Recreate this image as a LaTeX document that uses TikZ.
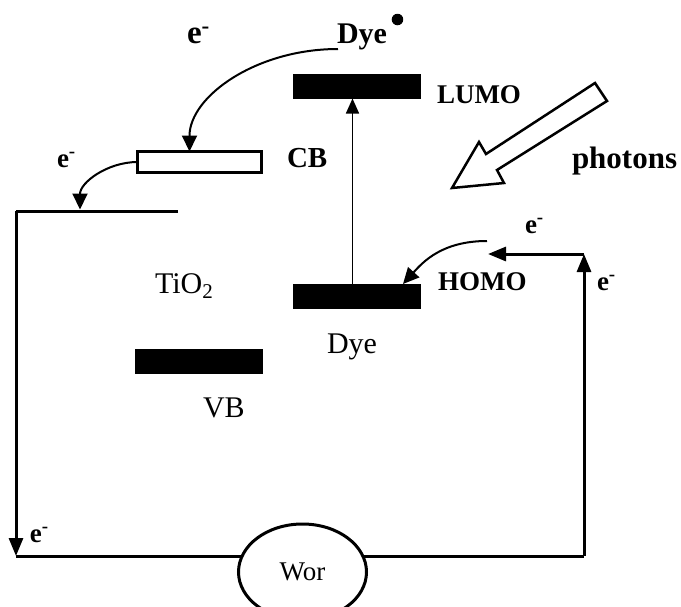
\documentclass[tikz,border=0pt]{standalone}
\usepackage{fontspec}
\setmainfont{Liberation Serif}
\usetikzlibrary{arrows.meta,shapes.geometric}

\begin{document}
\begin{tikzpicture}[x=1pt, y=-1pt,
  every node/.style={inner sep=0pt, outer sep=0pt},
  bold/.style={font=\fontsize{27}{30}\selectfont\bfseries, anchor=base west},
  plain/.style={font=\fontsize{30}{32}\selectfont, anchor=base west},
  level/.style={fill=black, minimum width=128pt, minimum height=25pt},
  wire/.style={line width=3pt},
  tip/.style={-{Triangle[length=18pt,width=14pt]}},
  curve/.style={line width=2pt, -{Triangle[length=16pt,width=15pt]}}]
  \useasboundingbox (0,0) rectangle (681,606);
  % energy levels
  \node[level] (lumo) at (357,86) {};
  \node[level] (homo) at (357,296.5) {};
  \node[level] (vb) at (199,361.5) {};
  \node[draw, line width=3pt, fill=white, minimum width=124pt, minimum height=21pt] (cb) at (199.5,162) {};
  % external circuit
  \coordinate (eR) at (178,211);
  \coordinate (eL) at (16,211);
  \coordinate (bL) at (16,556);
  \coordinate (bR) at (584,556);
  \coordinate (tR) at (584,254);
  \coordinate (cE) at (488,254);
  \draw[wire] (eR) -- (eL);
  \draw[wire,tip] (eL) -- (bL);
  \draw[wire] (bL) -- (bR);
  \draw[wire,tip] (bR) -- (tR);
  \draw[wire,tip] (tR) -- (cE);
  \node[ellipse, draw, line width=3pt, fill=white, minimum width=128pt, minimum height=96pt,
        font=\fontsize{27}{30}\selectfont] (wor) at (302.5,572) {Wor};
  % electron transfer
  \coordinate (dyeOut) at (338,49);
  \coordinate (eIn) at (80,209.5);
  \coordinate (ret) at (487,241);
  \draw[curve] (dyeOut) .. controls +(-82,0) and +(0,-55) .. ([xshift=-10pt]cb.north);
  \draw[curve] (cb.west) .. controls +(-30,0) and +(0,-27) .. (eIn);
  \draw[curve] (ret) .. controls +(-45,0) and +(20,-22) .. ([xshift=46pt]homo.north);
  \draw[line width=1.5pt, -{Triangle[length=15pt,width=13pt]}] ([xshift=-4.5pt]homo.north) -- ([xshift=-4.5pt]lumo.south);
  % photons
  \draw[line width=2.5pt, line join=miter] (595,83) -- (607,101) -- (497,170) -- (504,183)
    -- (452,188) -- (479,142) -- (486,154) -- cycle;
  % labels
  \node[bold, font=\fontsize{33}{34}\selectfont\bfseries] (eA) at (187,43) {e\textsuperscript{-}};
  \node[bold, font=\fontsize{30}{32}\selectfont\bfseries] (dyeX) at (337,43) {Dye};
  \fill ([xshift=10.5pt,yshift=23.5pt]dyeX.base east) circle (5.75pt);
  \node[bold] (lumoLbl) at (437,103) {LUMO};
  \node[bold, font=\fontsize{29}{30}\selectfont\bfseries] (cbLbl) at (287,167) {CB};
  \node[bold] (eB) at (57,167) {e\textsuperscript{-}};
  \node[bold, font=\fontsize{31}{32}\selectfont\bfseries] (phLbl) at (572,168) {photons};
  \node[bold] (eC) at (525,233) {e\textsuperscript{-}};
  \node[bold] (homoLbl) at (438,290) {HOMO};
  \node[bold] (eD) at (597,290) {e\textsuperscript{-}};
  \node[bold] (eE) at (30,542) {e\textsuperscript{-}};
  \node[plain] (tio) at (155,293) {TiO\textsubscript{2}};
  \node[plain] (dyeLbl) at (327,353) {Dye};
  \node[plain] (vbLbl) at (203,417) {VB};
\end{tikzpicture}
\end{document}
